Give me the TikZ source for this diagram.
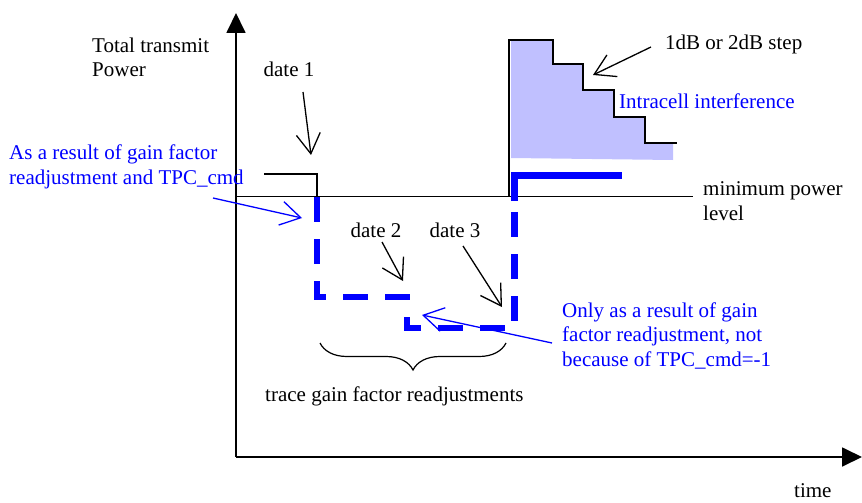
\documentclass[tikz,border=0pt]{standalone}
\usepackage{fontspec}
\setmainfont{Liberation Serif}
\usetikzlibrary{arrows.meta,decorations.pathreplacing}

\definecolor{lavender}{RGB}{192,192,255}

\begin{document}
\begin{tikzpicture} [
    x=1pt, y=-1pt,
    font=\fontsize{21}{24.5}\selectfont,
  ]

  \tikzstyle{axisline} = [
    line width=1.8pt,
    -{Triangle[length=20pt,width=19pt]},
  ]
  \tikzstyle{levelline} = [
    line width=1.5pt,
  ]
  \tikzstyle{pointer} = [
    line width=1.3pt,
    -{Straight Barb[length=20pt,width=24pt,line width=1.3pt]},
  ]
  \tikzstyle{bluepointer} = [
    pointer,
    draw=blue,
  ]
  \tikzstyle{trace} = [
    line width=6.5pt,
    draw=blue,
  ]
  \tikzstyle{txt} = [
    inner sep=0pt,
    anchor=base west,
    align=left,
  ]
  \tikzstyle{bluetxt} = [
    txt,
    text=blue,
  ]

  \useasboundingbox (0,0) rectangle (862,503);

  % axes
  \coordinate (origin) at (236,457);
  \coordinate (ytop)   at (236,13);
  \coordinate (xend)   at (862,457);
  \draw[axisline] (origin) -- (ytop);
  \draw[axisline] (origin) -- (xend);

  % intracell interference area
  \fill[lavender] (511,40) -- (552,40) -- (552,64) -- (583,64) -- (583,90)
    -- (614,90) -- (614,117) -- (645,117) -- (645,143) -- (673,143)
    -- (673,160) -- (511,158) -- cycle;

  % power levels
  \draw[levelline] (236,196.5) -- (693,196.5);
  \draw[levelline] (264,174) -- (317,174) -- (317,196.5);
  \draw[levelline] (509,196.5) -- (509,40) -- (553,40) -- (553,64) -- (583,64)
    -- (583,90) -- (614,90) -- (614,117) -- (645,117) -- (645,143) -- (677,143);

  % gain factor trace
  \draw[trace, dash pattern=on 25pt off 17pt] (317,197) -- (317,297) -- (407,297)
    -- (407,328) -- (514.5,328) -- (514.5,200);
  \draw[trace] (514.5,201) -- (514.5,175.5) -- (622,175.5);

  % labels (base = last line)
  \node[txt]     (power)  at (92,77)   {Total transmit\\Power};
  \node[txt]     (time)   at (794,497) {time};
  \node[txt]     (minpow) at (703,220) {minimum power\\level};
  \node[txt]     (step)   at (665,49)  {1dB or 2dB step};
  \node[bluetxt] (intra)  at (619,108) {Intracell interference};
  \node[txt, anchor=base] (date1) at (289,77)  {date 1};
  \node[txt, anchor=base] (date2) at (376,237) {date 2};
  \node[txt, anchor=base] (date3) at (455,237) {date 3};
  \node[bluetxt] (cmdnote)  at (9,184)   {As a result of gain factor\\readjustment and TPC\_cmd};
  \node[bluetxt] (gainnote) at (562,366) {Only as a result of gain\\factor readjustment, not\\because of TPC\_cmd=-1};
  \node[txt]     (tracenote) at (265,401) {trace gain factor readjustments};

  % pointers
  \coordinate (d1a) at (303,92);  \coordinate (d1b) at (311,155);
  \coordinate (d2a) at (382,242); \coordinate (d2b) at (403,281);
  \coordinate (d3a) at (463,246); \coordinate (d3b) at (502,307);
  \coordinate (sa)  at (651,47);  \coordinate (sb)  at (593,75);
  \coordinate (ca)  at (213,198); \coordinate (cb)  at (302,218);
  \coordinate (ga)  at (552,343); \coordinate (gb)  at (422,315);
  \draw[pointer] (d1a) -- (d1b);
  \draw[pointer] (d2a) -- (d2b);
  \draw[pointer] (d3a) -- (d3b);
  \draw[pointer] (sa) -- (sb);
  \draw[bluepointer] (ca) -- (cb);
  \draw[bluepointer] (ga) -- (gb);

  % brace
  \coordinate (bra) at (506,343);
  \coordinate (brb) at (320,343);
  \draw[line width=1.2pt, decorate, decoration={brace, amplitude=27pt}] (bra) -- (brb);

\end{tikzpicture}
\end{document}
